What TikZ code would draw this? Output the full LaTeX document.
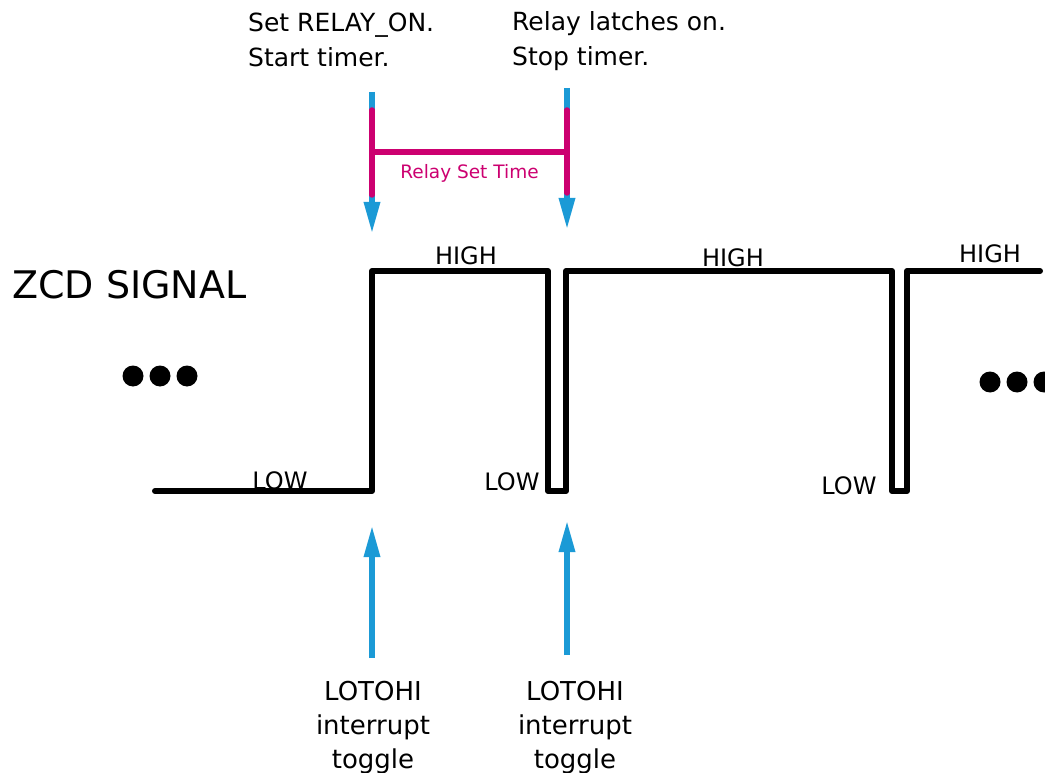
\documentclass[tikz,border=0pt]{standalone}
\usepackage{fontspec}
\setmainfont{DejaVu Sans}
\usetikzlibrary{arrows.meta,positioning}
\definecolor{tipblue}{HTML}{1B9AD6}
\definecolor{setpink}{HTML}{CC0070}

\begin{document}
\begin{tikzpicture}[x=1pt,y=-1pt,
  sig/.style={line width=6pt, line join=round, line cap=round},
  evarrow/.style={tipblue, line width=6pt, -{Triangle[length=32pt,width=15pt]}},
  spanline/.style={setpink, line width=5.5pt},
  lbl/.style={font=\fontsize{25}{35}\selectfont, align=center, inner sep=0pt},
  lvl/.style={font=\fontsize{24}{28}\selectfont, inner sep=0pt}]
  \useasboundingbox (0,0) rectangle (1045,773);

  % labels
  \node [lbl, align=left, anchor=north west] (setlbl) at (248,13) {Set RELAY\_ON.\\Start timer.};
  \node [lbl, align=left, anchor=north west] (latchlbl) at (512,11) {Relay latches on.\\Stop timer.};
  \node [lbl, font=\fontsize{26}{34}\selectfont, anchor=north] (lotohiA) at (373,681) {LOTOHI\\interrupt\\toggle};
  \node [lbl, font=\fontsize{26}{34}\selectfont, anchor=north] (lotohiB) at (575,681) {LOTOHI\\interrupt\\toggle};
  \node [font=\fontsize{38}{44}\selectfont, anchor=west, inner sep=0pt] (zcd) at (12,285) {ZCD SIGNAL};

  \node [lvl] (high1) at (466,256) {HIGH};
  \node [lvl] (high2) at (733,258) {HIGH};
  \node [lvl] (high3) at (990,254) {HIGH};
  \node [lvl] (low1) at (280,481) {LOW};
  \node [lvl] (low2) at (512,482) {LOW};
  \node [lvl] (low3) at (849,486) {LOW};

  % event points
  \coordinate (setTop) at (372,92);
  \coordinate (setTip) at (372,234);
  \coordinate (latchTop) at (567,88);
  \coordinate (latchTip) at (567,230);
  \coordinate (riseTip) at (372,525);
  \coordinate (riseBot) at (372,658);
  \coordinate (pulseTip) at (567,520);
  \coordinate (pulseBot) at (567,655);

  % zcd waveform
  \draw [sig] (155,491) -- (372,491) -- (372,271) -- (548,271) -- (548,491)
    -- (566,491) -- (566,271) -- (892,271) -- (892,491) -- (907,491)
    -- (907,271) -- (1040,271);

  % arrows
  \draw [evarrow] (setTop) -- (setTip);
  \draw [evarrow] (latchTop) -- (latchTip);
  \draw [evarrow] (riseBot) -- (riseTip);
  \draw [evarrow] (pulseBot) -- (pulseTip);

  % relay set time
  \draw [spanline, line cap=round] (372,110) -- (372,195);
  \draw [spanline, line cap=round] (567,110) -- (567,193);
  \draw [spanline] (372,152) -- node [below=10pt, font=\fontsize{18.5}{22}\selectfont, inner sep=0pt] (settime) {Relay Set Time} (567,152);

  % dots
  \foreach \dx in {133,160,187}
    \fill (\dx,376) circle (10.5pt);
  \foreach \dx in {990,1017,1044}
    \fill (\dx,382) circle (10.5pt);
\end{tikzpicture}
\end{document}
